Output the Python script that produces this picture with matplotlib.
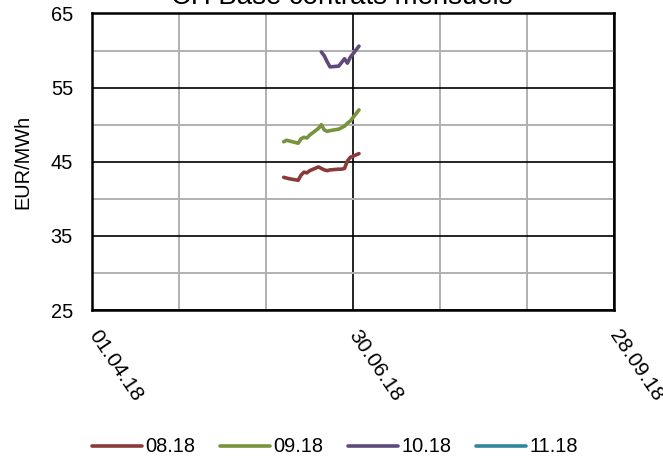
import numpy as np
import pandas as pd
import matplotlib
matplotlib.use("Agg")
import matplotlib.pyplot as plt
import matplotlib.dates as mdates

plt.rcParams['font.family'] = ['Liberation Sans', 'DejaVu Sans']

# trading days of the monthly contracts
days_long = ["2018-06-06", "2018-06-07", "2018-06-08", "2018-06-11", "2018-06-12",
             "2018-06-13", "2018-06-14", "2018-06-15", "2018-06-18", "2018-06-19",
             "2018-06-20", "2018-06-21", "2018-06-22", "2018-06-25", "2018-06-26",
             "2018-06-27", "2018-06-28", "2018-06-29", "2018-07-02"]
days_short = ["2018-06-19", "2018-06-20", "2018-06-21", "2018-06-22", "2018-06-25",
              "2018-06-26", "2018-06-27", "2018-06-28", "2018-06-29", "2018-07-02"]

aug18 = [42.9, 42.8, 42.7, 42.5, 43.2, 43.6, 43.5, 43.8, 44.3, 44.1,
         43.9, 43.8, 43.9, 44.0, 44.0, 44.1, 45.1, 45.6, 46.1]
sep18 = [47.7, 47.9, 47.8, 47.5, 48.1, 48.3, 48.2, 48.6, 49.5, 50.0,
         49.3, 49.1, 49.2, 49.4, 49.6, 49.8, 50.2, 50.5, 52.0]
oct18 = [59.8, 59.3, 58.5, 57.8, 57.9, 58.4, 58.9, 58.3, 59.1, 60.6]
nov18 = []

labels = ["08.18", "09.18", "10.18", "11.18"]
colors = ["#8B3A3A", "#77933C", "#5F497A", "#31859C"]

x_start = pd.Timestamp("2018-04-01")
x_end = pd.Timestamp("2018-09-28")

fig = plt.figure(figsize=(6.63, 4.59), dpi=100)
ax = fig.add_axes([0.1395, 0.3246, 0.7865, 0.646])

series = [
    (pd.to_datetime(days_long), aug18),
    (pd.to_datetime(days_long), sep18),
    (pd.to_datetime(days_short), oct18),
    ([], nov18),
]
for (d, v), lab, c in zip(series, labels, colors):
    ax.plot(d, v, color=c, lw=2.6, label=lab, solid_capstyle='round',
            solid_joinstyle='round')

ax.set_xlim(x_start, x_end)
ax.set_ylim(25, 65)

major_x = [x_start + pd.Timedelta(days=k) for k in (0, 90, 180)]
minor_x = [x_start + pd.Timedelta(days=k) for k in (30, 60, 120, 150)]
ax.set_xticks(major_x)
ax.set_xticks(minor_x, minor=True)
ax.xaxis.set_major_formatter(mdates.DateFormatter("%d.%m.%y"))
ax.set_yticks(np.arange(25, 66, 10))
ax.set_yticks(np.arange(30, 65, 10), minor=True)

ax.grid(which='major', color='black', lw=1.2)
ax.grid(which='minor', color='#B0B0B0', lw=1.4)
ax.set_axisbelow(True)
for s in ax.spines.values():
    s.set_linewidth(1.8)
    s.set_color('black')

ax.tick_params(which='both', length=0)
ax.tick_params(axis='y', labelsize=14.4, pad=14)
ax.tick_params(axis='x', labelsize=15, pad=16)
for t in ax.get_xticklabels():
    t.set_rotation(-56)
    t.set_ha('left')
    t.set_va('center')
    t.set_rotation_mode('anchor')

ax.set_ylabel("EUR/MWh", fontsize=14.4, labelpad=13)

fig.text(0.515, 1 - 3.5 / 459, "CH Base contrats mensuels", fontsize=19.9,
         ha='center', va='baseline')

fig.legend(loc='center', bbox_to_anchor=(0.505, 1 - 447 / 459), ncol=4,
           frameon=False, fontsize=14.4, handlelength=2.5, handletextpad=0.15,
           columnspacing=1.25, borderaxespad=0)

fig.savefig("out.png", dpi=100)
